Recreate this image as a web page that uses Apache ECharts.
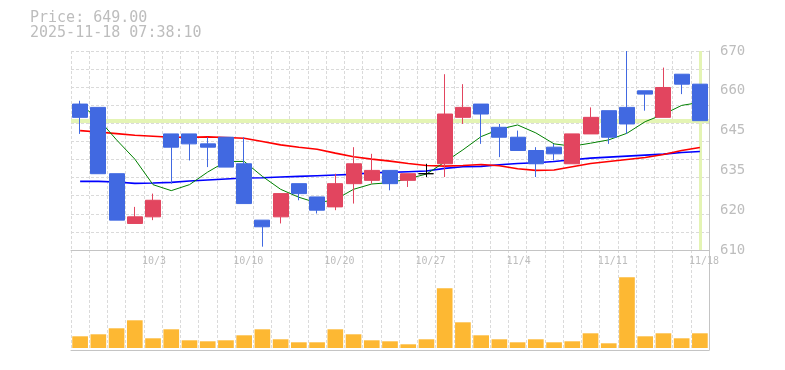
<!DOCTYPE html>
<html><head><meta charset="utf-8">
<script src="https://cdn.jsdelivr.net/npm/echarts@6/dist/echarts.min.js"></script>
<style>html,body{margin:0;padding:0;background:#fff}#c{width:785px;height:370px}</style>
</head><body><div id="c"></div>
<script>
const dates = ['9/29','9/30','10/1','10/2','10/3','10/6','10/7','10/8','10/9','10/10','10/14','10/15','10/16','10/17','10/20','10/21','10/22','10/23','10/24','10/27','10/28','10/29','10/30','10/31','11/4','11/5','11/6','11/7','11/10','11/11','11/12','11/13','11/14','11/17','11/18'];
const opens  = [654,653,633,618,620,645,645,642,644,636,619,620,630,626,623,630,631,634,631,633,636,650,654,647,644,640,641,636,645,652,653,658,650,663,660];
const closes = [650,633,619,620,625,641,642,641,635,624,617,627,627,622,630,636,634,630,633,633,651,653,651,644,640,636,639,645,650,644,648,657,659,660,649];
const lows   = [645,633,619,618,619,630,637,635,635,624,611,618,625,621,622,624,630,628,629,632,632,648,642,638,640,632,637,636,645,642,645,652,650,657,649];
const highs  = [655,653,633,623,627,645,645,644,644,644,619,627,630,626,633,641,639,634,633,636,663,660,654,648,646,641,642,645,653,652,670,658,665,663,660];
const ma5  = [654.0,649.5,643.2,637.4,629.7,627.9,629.7,633.5,636.7,636.7,632.2,628.3,625.9,624.2,625.2,628.3,629.9,630.3,631.5,632.9,636.5,640.2,644.2,646.4,647.7,645.3,642.0,641.3,642.2,643.2,645.2,648.7,650.9,653.6,654.5];
const ma25 = [646.0,645.6,645.1,644.6,644.3,644.0,644.0,644.1,643.9,643.7,642.7,641.7,641.0,640.4,639.2,638.1,637.4,636.8,636.1,635.5,635.3,635.5,635.8,635.4,634.5,634.0,634.1,635.1,636.1,636.7,637.3,637.9,638.8,640.0,640.9];
const ma75 = [630.7,630.7,630.5,630.1,630.2,630.4,630.8,631.1,631.4,631.7,631.8,632.0,632.2,632.4,632.6,632.8,633.3,633.4,633.6,633.8,634.6,635.1,635.2,635.7,636.1,636.3,636.7,637.2,637.7,638.0,638.3,638.6,638.9,639.4,639.7];
const volumes = [117,137,197,277,97,187,77,67,77,127,187,87,57,57,187,137,77,67,37,87,597,257,127,87,57,87,57,67,147,47,707,117,147,97,147];
const priceTickValues = [610,622,634,646,658,670];
const priceTickLabels = ['610','620','635','645','660','670'];
const lastPrice = 649.00;
const stamp = '2025-11-18 07:38:10';

const mono = "'DejaVu Sans Mono','Liberation Mono',monospace";
const txt = '#bdbdbd';
const axisCol = '#c4c4c4';
const dash = {show:true, lineStyle:{color:'#dadada', type:[3,2], width:1}};

const chart = echarts.init(document.getElementById('c'));
chart.setOption({
  animation:false,
  title:{text:'Price: '+lastPrice.toFixed(2)+'\n'+stamp, left:30, top:11, padding:0,
    textStyle:{fontFamily:mono, fontSize:15, fontWeight:'normal', color:txt, lineHeight:15}},
  grid:[{left:71, right:76, top:51, height:199},{left:71, right:76, top:250, height:100}],
  xAxis:[
    {type:'category', gridIndex:0, data:dates, boundaryGap:true,
     axisLine:{onZero:false, lineStyle:{color:axisCol}}, axisTick:{show:false},
     axisLabel:{interval:(i)=>i%5===4, align:'left', padding:[0,0,0,-11], margin:6, fontFamily:mono, fontSize:10, color:txt},
     splitLine:Object.assign({interval:0}, dash)},
    {type:'category', gridIndex:1, data:dates, boundaryGap:true,
     axisLine:{onZero:false, lineStyle:{color:axisCol}}, axisTick:{show:false}, axisLabel:{show:false},
     splitLine:Object.assign({interval:0}, dash)}
  ],
  yAxis:[
    {type:'value', gridIndex:0, position:'right', min:610, max:670, interval:12,
     axisLine:{show:true, lineStyle:{color:axisCol}}, axisTick:{show:false}, splitLine:{show:false},
     axisLabel:{margin:11, padding:[5,0,0,0], fontFamily:mono, fontSize:14, color:txt,
       formatter:(v)=>{const k=priceTickValues.findIndex(t=>Math.abs(t-v)<0.01);return k<0?'':priceTickLabels[k];}}},
    {type:'value', gridIndex:0, position:'left', min:610, max:670, interval:60/11,
     axisLine:{show:false}, axisTick:{show:false}, axisLabel:{show:false}, splitLine:dash},
    {type:'value', gridIndex:1, position:'right', min:-20, max:980,
     axisLine:{show:true, lineStyle:{color:axisCol}}, axisTick:{show:false}, axisLabel:{show:false}, splitLine:{show:false}}
  ],
  series:[
    {type:'line', xAxisIndex:0, yAxisIndex:0, data:[], z:1,
     markLine:{z:1, silent:true, symbol:'none', label:{show:false},
       lineStyle:{color:'#e4f4b4', type:'solid'},
       data:[{yAxis:lastPrice, lineStyle:{width:4}},{xAxis:dates[dates.length-1], lineStyle:{width:3}}]}},
    {name:'MA75', type:'line', xAxisIndex:0, yAxisIndex:0, data:ma75, showSymbol:false, z:2,
     lineStyle:{color:'#0000ff', width:1.6}},
    {name:'MA25', type:'line', xAxisIndex:0, yAxisIndex:0, data:ma25, showSymbol:false, z:2,
     lineStyle:{color:'#ff0000', width:1.6}},
    {name:'MA5', type:'line', xAxisIndex:0, yAxisIndex:0, data:ma5, showSymbol:false, z:2,
     lineStyle:{color:'#008000', width:1}},
    {type:'candlestick', xAxisIndex:0, yAxisIndex:0, z:3, barWidth:'85%',
     data:dates.map((d,i)=>[opens[i],closes[i],lows[i],highs[i]]),
     itemStyle:{color:'#e2455f', color0:'#4169e1', borderColor:'#e2455f', borderColor0:'#4169e1', borderColorDoji:'#000000', borderWidth:1}},
    {type:'bar', xAxisIndex:1, yAxisIndex:2, data:volumes, barWidth:'86%', itemStyle:{color:'#fdb833'}}
  ]
});
</script></body></html>
